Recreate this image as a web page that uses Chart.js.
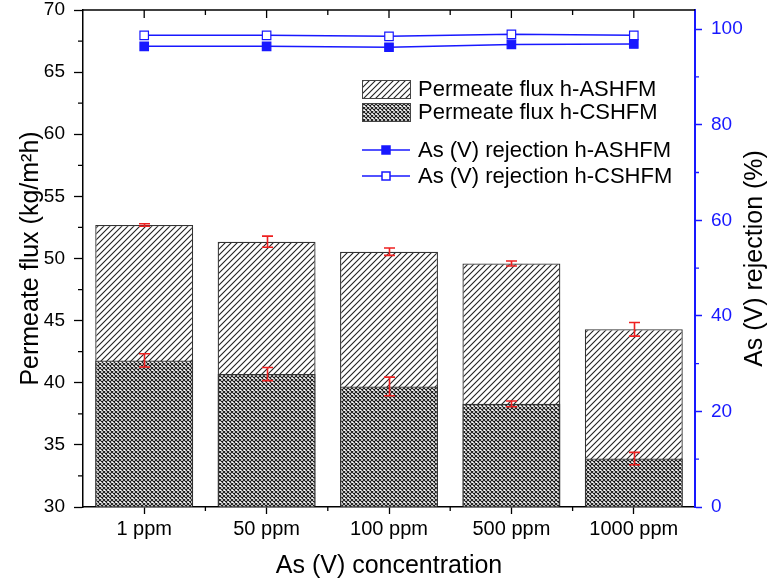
<!DOCTYPE html>
<html>
<head>
<meta charset="utf-8">
<script src="https://cdn.jsdelivr.net/npm/chart.js@4/dist/chart.umd.min.js"></script>
<style>
  body { margin: 0; background: #fff; }
  #wrap { width: 782px; height: 585px; }
</style>
</head>
<body>
<div id="wrap"><canvas id="chart"></canvas></div>
<script>
'use strict'

//Data ---------------------------------------------------------
const categories = ['1 ppm', '50 ppm', '100 ppm', '500 ppm', '1000 ppm'];
const fluxA = [52.7, 51.35, 50.55, 49.6, 44.3];
const fluxAErr = [0.1, 0.45, 0.3, 0.2, 0.55];
const fluxC = [41.8, 40.7, 39.7, 38.3, 33.9];
const fluxCErr = [0.53, 0.53, 0.75, 0.23, 0.5];
const rejA = [96.4, 96.4, 96.2, 96.8, 96.9];
const rejC = [98.7, 98.7, 98.5, 98.9, 98.7];
const fluxTicks = [30, 35, 40, 45, 50, 55, 60, 65, 70];
const rejTicks = [0, 20, 40, 60, 80, 100];

const BLUE = '#1818ff';
const RED = '#ee2020';
const FONT = 'Arial, "Liberation Sans", sans-serif';

//Patterns ---------------------------------------------------------
const canvasElem = document.getElementById('chart');
const mainCtx = canvasElem.getContext('2d');

function makeHatch() {
  const s = 6;
  const c = document.createElement('canvas');
  c.width = s; c.height = s;
  const g = c.getContext('2d');
  g.fillStyle = '#fff';
  g.fillRect(0, 0, s, s);
  g.strokeStyle = '#222';
  g.lineWidth = 1.1;
  g.beginPath();
  g.moveTo(-1, s + 1); g.lineTo(s + 1, -1);
  g.moveTo(-1, 1); g.lineTo(1, -1);
  g.moveTo(s - 1, s + 1); g.lineTo(s + 1, s - 1);
  g.stroke();
  return mainCtx.createPattern(c, 'repeat');
}

function makeCross() {
  const s = 4;
  const c = document.createElement('canvas');
  c.width = s; c.height = s;
  const g = c.getContext('2d');
  g.fillStyle = '#fff';
  g.fillRect(0, 0, s, s);
  g.strokeStyle = '#1a1a1a';
  g.lineWidth = 1.1;
  g.beginPath();
  g.moveTo(-1, -1); g.lineTo(s + 1, s + 1);
  g.moveTo(-1, s + 1); g.lineTo(s + 1, -1);
  g.stroke();
  return mainCtx.createPattern(c, 'repeat');
}

const hatchFill = makeHatch();
const crossFill = makeCross();

//Extras plugin: error bars, frame, minor ticks, legend -----------------
const extrasPlugin = {
  id: 'extras',
  afterDatasetsDraw(chart) {
    const {ctx, scales} = chart;
    const x = scales.x, y = scales.y;
    ctx.save();
    ctx.strokeStyle = RED;
    ctx.lineWidth = 1.6;
    [[fluxA, fluxAErr], [fluxC, fluxCErr]].forEach(([vals, errs]) => {
      vals.forEach((v, i) => {
        const px = Math.round(x.getPixelForValue(i)) + 0.5;
        const top = y.getPixelForValue(v + errs[i]);
        const bot = y.getPixelForValue(v - errs[i]);
        ctx.beginPath();
        ctx.moveTo(px, top); ctx.lineTo(px, bot);
        ctx.moveTo(px - 5.5, top); ctx.lineTo(px + 5.5, top);
        ctx.moveTo(px - 5.5, bot); ctx.lineTo(px + 5.5, bot);
        ctx.stroke();
      });
    });
    ctx.restore();
  },
  afterDraw(chart) {
    const {ctx, chartArea: a, scales} = chart;
    const x = scales.x, y = scales.y, y1 = scales.y1;
    ctx.save();
    // top frame line
    ctx.strokeStyle = '#000';
    ctx.lineWidth = 1.5;
    ctx.beginPath();
    ctx.moveTo(a.left, a.top); ctx.lineTo(a.right, a.top);
    ctx.stroke();
    // top ticks (inward) and bottom minor ticks
    ctx.lineWidth = 1.3;
    ctx.beginPath();
    for (let i = 0; i < categories.length; i++) {
      const px = x.getPixelForValue(i);
      ctx.moveTo(px, a.top); ctx.lineTo(px, a.top + 8);
      if (i < categories.length - 1) {
        const mid = (px + x.getPixelForValue(i + 1)) / 2;
        ctx.moveTo(mid, a.top); ctx.lineTo(mid, a.top + 5);
        ctx.moveTo(mid, a.bottom); ctx.lineTo(mid, a.bottom + 4);
      }
    }
    // left minor ticks
    for (let i = 0; i < fluxTicks.length - 1; i++) {
      const py = y.getPixelForValue((fluxTicks[i] + fluxTicks[i + 1]) / 2);
      ctx.moveTo(a.left, py); ctx.lineTo(a.left - 5, py);
    }
    ctx.stroke();
    // right minor ticks
    ctx.strokeStyle = BLUE;
    ctx.beginPath();
    for (let i = 0; i < rejTicks.length - 1; i++) {
      const py = y1.getPixelForValue((rejTicks[i] + rejTicks[i + 1]) / 2);
      ctx.moveTo(a.right, py); ctx.lineTo(a.right + 4, py);
    }
    ctx.stroke();

    // right axis title, reading bottom to top
    ctx.save();
    ctx.translate(y1.right - 27, (a.top + a.bottom) / 2);
    ctx.rotate(-Math.PI / 2);
    ctx.font = '25px ' + FONT;
    ctx.fillStyle = '#000';
    ctx.textAlign = 'center';
    ctx.textBaseline = 'middle';
    ctx.fillText('As (V) rejection (%)', 0, 0);
    ctx.restore();

    // legend
    const lx = a.left + 279;
    const tx = lx + 56;
    ctx.font = '22px ' + FONT;
    ctx.textBaseline = 'middle';
    const boxes = [[hatchFill, 'Permeate flux h-ASHFM', a.top + 79], [crossFill, 'Permeate flux h-CSHFM', a.top + 102]];
    boxes.forEach(([fill, label, cy]) => {
      ctx.fillStyle = fill;
      ctx.fillRect(lx, cy - 9, 48, 18);
      ctx.strokeStyle = '#444';
      ctx.lineWidth = 1;
      ctx.strokeRect(lx + 0.5, cy - 8.5, 48, 18);
      ctx.fillStyle = '#000';
      ctx.fillText(label, tx, cy + 1);
    });
    const lines = [[BLUE, 'As (V) rejection h-ASHFM', a.top + 140], ['#fff', 'As (V) rejection h-CSHFM', a.top + 166]];
    lines.forEach(([fill, label, cy]) => {
      ctx.strokeStyle = BLUE;
      ctx.lineWidth = 1.5;
      ctx.beginPath();
      ctx.moveTo(lx, cy); ctx.lineTo(lx + 48, cy);
      ctx.stroke();
      ctx.fillStyle = fill;
      ctx.fillRect(lx + 20, cy - 4, 8, 8);
      ctx.strokeRect(lx + 20, cy - 4, 8, 8);
      ctx.fillStyle = '#000';
      ctx.fillText(label, tx, cy + 1);
    });
    ctx.restore();
  }
};

function fixVertical(width) {
  return function (scale) {
    scale.width = width;
    scale.paddingTop = 10;
    scale.paddingBottom = 0;
  };
}

//Chart ---------------------------------------------------------
new Chart(canvasElem, {
  data: {
    labels: categories,
    datasets: [
      {
        type: 'line', label: 'As (V) rejection h-ASHFM', data: rejA, yAxisID: 'y1', order: 0,
        borderColor: BLUE, borderWidth: 1.5, pointStyle: 'rect', pointRadius: 6,
        pointBackgroundColor: BLUE, pointBorderColor: BLUE, pointBorderWidth: 1.2
      },
      {
        type: 'line', label: 'As (V) rejection h-CSHFM', data: rejC, yAxisID: 'y1', order: 1,
        borderColor: BLUE, borderWidth: 1.5, pointStyle: 'rect', pointRadius: 6,
        pointBackgroundColor: '#fff', pointBorderColor: BLUE, pointBorderWidth: 1.2
      },
      {
        type: 'bar', label: 'Permeate flux h-CSHFM', data: fluxC, yAxisID: 'y', order: 2,
        backgroundColor: crossFill, borderColor: '#333', borderWidth: 1.3, base: 30
      },
      {
        type: 'bar', label: 'Permeate flux h-ASHFM', data: fluxA, yAxisID: 'y', order: 3,
        backgroundColor: hatchFill, borderColor: '#333', borderWidth: 1.3, base: 30
      }
    ]
  },
  options: {
    responsive: true,
    maintainAspectRatio: false,
    animation: false,
    layout: { padding: 0 },
    datasets: { bar: { grouped: false, categoryPercentage: 0.8, barPercentage: 1 } },
    plugins: { legend: { display: false }, tooltip: { enabled: false } },
    scales: {
      x: {
        offset: true,
        grid: { offset: false, drawOnChartArea: false, tickLength: 7, tickWidth: 1.3, tickColor: '#000' },
        border: { color: '#000', width: 1.5 },
        ticks: { color: '#000', font: { family: FONT, size: 20 }, padding: 3 },
        title: { display: true, text: 'As (V) concentration', color: '#000', font: { family: FONT, size: 25 }, padding: { bottom: 4 } },
        afterFit(scale) { scale.height = 78; scale.paddingLeft = 0; scale.paddingRight = 0; }
      },
      y: {
        position: 'left',
        min: 30, max: 70,
        afterBuildTicks(scale) { scale.ticks = fluxTicks.map(v => ({ value: v })); },
        grid: { drawOnChartArea: false, tickLength: 9, tickWidth: 1.3, tickColor: '#000' },
        border: { color: '#000', width: 1.5 },
        ticks: { color: '#000', font: { family: FONT, size: 19 }, padding: 9 },
        title: { display: true, text: 'Permeate flux (kg/m²h)', color: '#000', font: { family: FONT, size: 25 }, padding: { top: 16 } },
        afterFit: fixVertical(83)
      },
      y1: {
        position: 'right',
        min: 0, max: 104,
        afterBuildTicks(scale) { scale.ticks = rejTicks.map(v => ({ value: v })); },
        grid: { drawOnChartArea: false, tickLength: 7, tickWidth: 1.5, tickColor: BLUE },
        border: { color: BLUE, width: 2 },
        ticks: { color: BLUE, font: { family: FONT, size: 19 }, padding: 9 },
        title: { display: false },
        afterFit: fixVertical(87)
      }
    }
  },
  plugins: [extrasPlugin]
});
</script>
</body>
</html>
